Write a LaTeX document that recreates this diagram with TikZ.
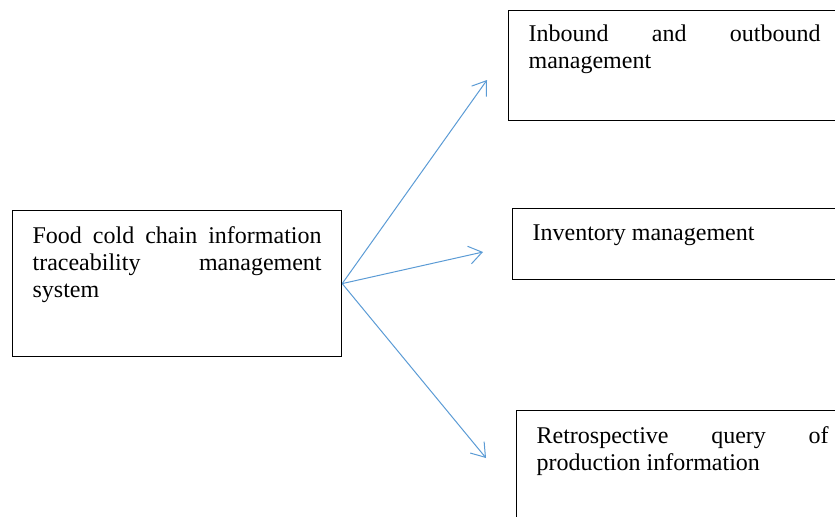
\documentclass[tikz,border=0pt]{standalone}
\usepackage{fontspec}
\setmainfont{Liberation Serif}
\usepackage{xcolor}
\usetikzlibrary{arrows.meta, positioning}
\definecolor{linkblue}{RGB}{91,155,213}
\hyphenpenalty=10000
\tolerance=10000

\begin{document}
\begin{tikzpicture}[x=0.5pt, y=-0.5pt,
    every node/.style={font=\fontsize{12}{13.5}\selectfont},
    box/.style={draw, line width=0.6pt, anchor=north west, align=justify,
      text width=146pt, inner xsep=10pt, inner ysep=0pt},
    link/.style={draw=linkblue, line width=0.5pt, -{Straight Barb[length=6.5pt, width=9pt]}}]
  \clip (0,0) rectangle (835,516);

  % System
  \node[box, text width=144.5pt, text height=16.5pt, text depth=56.5pt] (system) at (12,210)
    {Food cold chain information traceability management system};

  % Functions
  \node[box, text height=15.5pt, text depth=39.5pt] (inout) at (508,10)
    {Inbound and outbound management};
  \node[box, text height=16pt, text depth=19.5pt] (stock) at (512,208)
    {Inventory management};
  \node[box, text height=16.5pt, text depth=60pt] (query) at (516,410)
    {Retrospective query of production information};

  % Links
  \coordinate (toinout) at (487,80);
  \coordinate (tostock) at (483,252);
  \coordinate (toquery) at (486,458);
  \draw[link] (system.east) -- (toinout);
  \draw[link] (system.east) -- (tostock);
  \draw[link] (system.east) -- (toquery);
\end{tikzpicture}
\end{document}
